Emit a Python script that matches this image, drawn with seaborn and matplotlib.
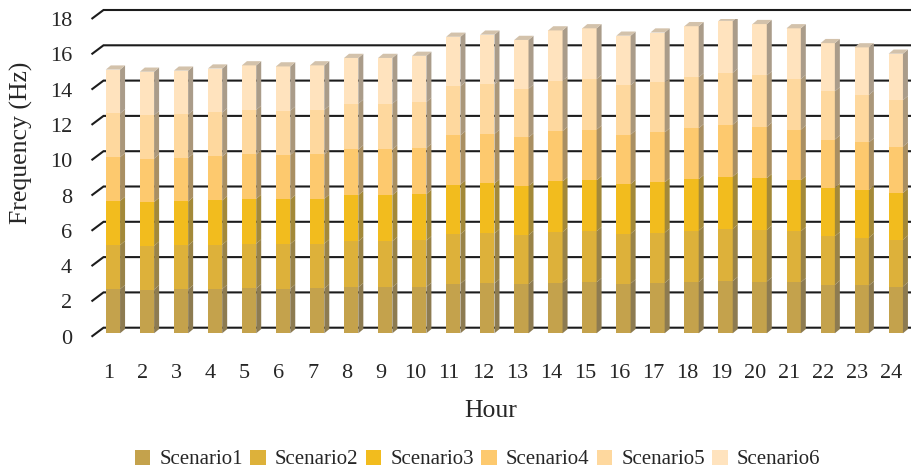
import numpy as np
import pandas as pd
import matplotlib
matplotlib.use("Agg")
import matplotlib.pyplot as plt
from matplotlib.patches import Polygon, Patch
from matplotlib.colors import to_rgb
from matplotlib.transforms import ScaledTranslation
import seaborn as sns

# ---- data -------------------------------------------------------------
hours = [str(h) for h in range(1, 25)]
scenarios = ["Scenario1", "Scenario2", "Scenario3",
             "Scenario4", "Scenario5", "Scenario6"]

scenario1 = [2.50, 2.48, 2.49, 2.51, 2.54, 2.53, 2.54, 2.61, 2.61, 2.63, 2.81, 2.83,
             2.78, 2.87, 2.89, 2.82, 2.85, 2.91, 2.96, 2.93, 2.89, 2.75, 2.71, 2.65]
scenario2 = [2.50, 2.48, 2.49, 2.51, 2.54, 2.53, 2.54, 2.61, 2.61, 2.63, 2.81, 2.83,
             2.78, 2.87, 2.89, 2.82, 2.85, 2.91, 2.96, 2.93, 2.89, 2.75, 2.71, 2.65]
scenario3 = [2.50, 2.48, 2.49, 2.51, 2.54, 2.53, 2.54, 2.61, 2.61, 2.63, 2.81, 2.83,
             2.78, 2.87, 2.89, 2.82, 2.85, 2.91, 2.96, 2.93, 2.89, 2.75, 2.71, 2.65]
scenario4 = [2.48, 2.46, 2.47, 2.49, 2.52, 2.51, 2.52, 2.59, 2.59, 2.61, 2.79, 2.81,
             2.76, 2.85, 2.87, 2.80, 2.83, 2.89, 2.94, 2.91, 2.87, 2.73, 2.69, 2.63]
scenario5 = [2.48, 2.46, 2.47, 2.49, 2.52, 2.51, 2.52, 2.59, 2.59, 2.61, 2.79, 2.81,
             2.76, 2.85, 2.87, 2.80, 2.83, 2.89, 2.94, 2.91, 2.87, 2.73, 2.69, 2.63]
scenario6 = [2.48, 2.46, 2.47, 2.49, 2.52, 2.51, 2.52, 2.59, 2.59, 2.61, 2.79, 2.81,
             2.76, 2.85, 2.87, 2.80, 2.83, 2.89, 2.94, 2.91, 2.87, 2.73, 2.69, 2.63]

colors = ["#C4A24C", "#DDB13A", "#F2BC1E", "#FDC96E", "#FED89E", "#FFE3BE"]
y_ticks = list(range(0, 19, 2))

# ---- style ------------------------------------------------------------
sns.set_style("white")
plt.rcParams["font.family"] = ["Liberation Serif", "DejaVu Serif"]
TEXT = "#262626"
GRID = "#1c1c1c"


def mix(c, other, t):
    a, b = np.array(to_rgb(c)), np.array(to_rgb(other))
    return tuple(a * (1 - t) + b * t)


DPI = 100
W, H = 911, 473
fig = plt.figure(figsize=(W / DPI, H / DPI), dpi=DPI)
ax = fig.add_axes([91.5 / W, 136.3 / H, 816.9 / W, 317.7 / H])

series = [scenario1, scenario2, scenario3, scenario4, scenario5, scenario6]
stack = np.cumsum(np.array(series), axis=0)
df = pd.DataFrame({
    "hour": hours * len(scenarios),
    "scenario": np.repeat(scenarios, len(hours)),
    "top": stack.ravel(),
})

# pixel offsets for the pseudo-3D look
BAR_SHIFT = (4.4, 3.4)   # bar fronts sit a little behind the front plane
DEPTH = (5.0, 4.2)       # bar depth (side / top faces)
WALL = (12.0, 9.0)       # back wall carrying the gridlines

bar_trans = ax.transData + ScaledTranslation(BAR_SHIFT[0] / DPI, BAR_SHIFT[1] / DPI,
                                             fig.dpi_scale_trans)

# front faces: cumulative bars drawn from the tallest down
seg_patches = {}
for k in reversed(range(len(scenarios))):
    n0 = len(ax.patches)
    sns.barplot(data=df[df["scenario"] == scenarios[k]], x="hour", y="top",
                order=hours, color=colors[k], saturation=1, width=0.42,
                errorbar=None, linewidth=0, zorder=3, ax=ax)
    seg_patches[k] = list(ax.patches)[n0:]
    for p in seg_patches[k]:
        p.set_transform(bar_trans)

ax.set_xlim(-0.5, len(hours) - 0.5)
ax.set_ylim(y_ticks[0], y_ticks[-1])

ppx = (ax.transData.transform((1, 0)) - ax.transData.transform((0, 0)))[0]
ppy = (ax.transData.transform((0, 1)) - ax.transData.transform((0, 0)))[1]
ddx, ddy = DEPTH[0] / ppx, DEPTH[1] / ppy
wx, wy = WALL[0] / ppx, WALL[1] / ppy

# side and top faces
for k in range(len(scenarios)):
    side = mix(colors[k], "#555555", 0.5)
    for i, p in enumerate(seg_patches[k]):
        xl = p.get_x()
        xr = xl + p.get_width()
        y1 = p.get_height()
        y0 = stack[k - 1][i] if k > 0 else 0.0
        ax.add_patch(Polygon([(xr, y0), (xr + ddx, y0 + ddy), (xr + ddx, y1 + ddy), (xr, y1)],
                             closed=True, facecolor=side, edgecolor="none",
                             transform=bar_trans, zorder=3))
        if k == len(scenarios) - 1:
            ax.add_patch(Polygon([(xl, y1), (xr, y1), (xr + ddx, y1 + ddy), (xl + ddx, y1 + ddy)],
                                 closed=True, facecolor=mix(colors[k], "#8c8c8c", 0.38),
                                 edgecolor="none", transform=bar_trans, zorder=3))

# gridlines on the back wall with the short floor step at the left
x0, x1 = ax.get_xlim()
for t in y_ticks:
    ax.plot([x0, x0 + wx, x1 + wx], [t, t + wy, t + wy], color=GRID, lw=1.5,
            zorder=1, clip_on=False, solid_capstyle="butt", solid_joinstyle="miter")

# axes decoration
for s in ax.spines.values():
    s.set_visible(False)
ax.grid(False)
ax.set_yticks(y_ticks)
ax.set_yticklabels([str(t) for t in y_ticks])
ax.set_xticks(range(len(hours)))
ax.set_xticklabels(hours)
ax.tick_params(axis="y", length=0, pad=14, labelsize=16, labelcolor=TEXT)
ax.tick_params(axis="x", length=0, pad=19.5, labelsize=16, labelcolor=TEXT)

ax.set_xlabel("Hour", fontsize=18.5, color=TEXT)
ax.set_ylabel("Frequency (Hz)", fontsize=18.5, color=TEXT)
ax.xaxis.set_label_coords((491 - 91.5) / 816.9, -0.199)
ax.yaxis.set_label_coords((33 - 91.5) / 816.9, 0.611)

handles = [Patch(facecolor=c, edgecolor="none") for c in colors]
leg = fig.legend(handles, scenarios, loc="center", bbox_to_anchor=(477.5 / W, 13.5 / H),
                 ncol=6, frameon=False, fontsize=15, handlelength=0.75,
                 handleheight=0.72, handletextpad=0.43, columnspacing=0.35,
                 borderpad=0, borderaxespad=0)
for txt in leg.get_texts():
    txt.set_color(TEXT)

fig.savefig("out.png", dpi=DPI)
